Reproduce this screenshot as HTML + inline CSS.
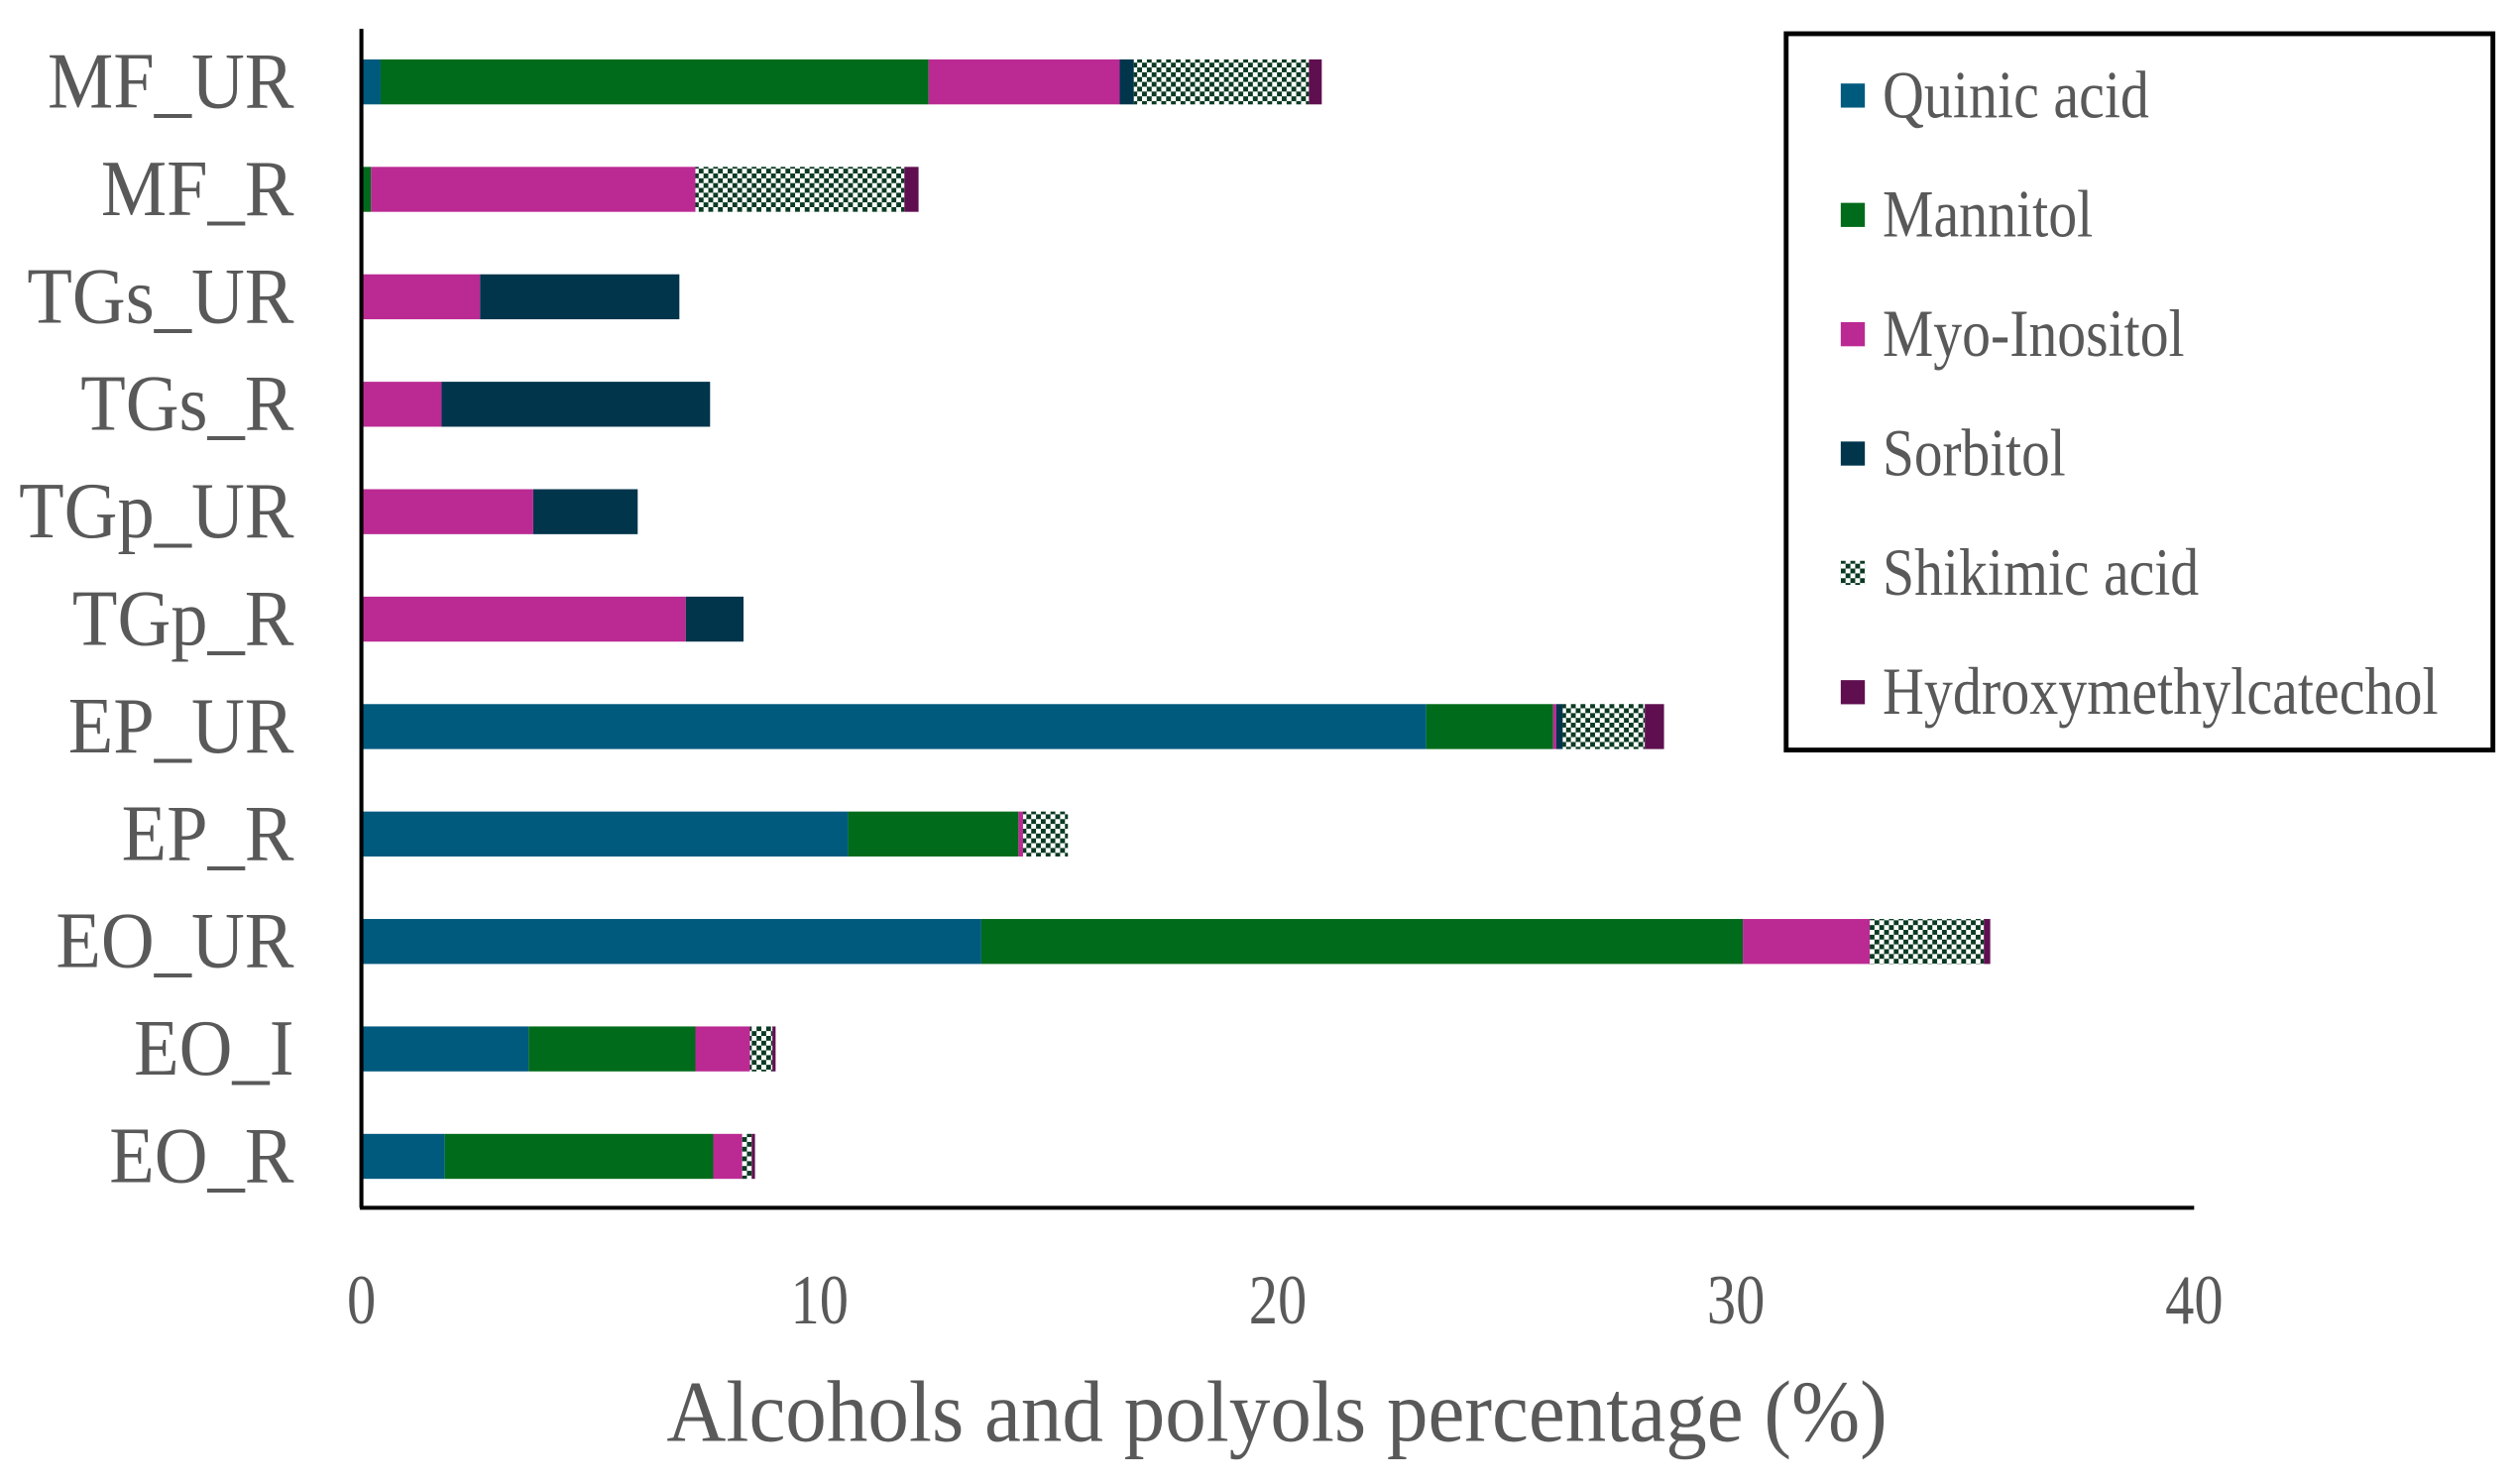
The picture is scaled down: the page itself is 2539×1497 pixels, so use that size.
<!DOCTYPE html>
<html><head><meta charset="utf-8"><style>
html,body{margin:0;padding:0;background:#fff;}
svg{display:block;}
text{font-family:"Liberation Serif",serif;fill:#595959;}
</style></head>
<body>
<svg id="chart" width="2539" height="1497" viewBox="0 0 1567 924" preserveAspectRatio="none" xmlns="http://www.w3.org/2000/svg">
<defs>
<pattern id="checker" width="6" height="6" patternUnits="userSpaceOnUse">
<rect width="6" height="6" fill="#ffffff"/>
<rect width="3" height="3" fill="#0a3a22"/>
<rect x="3" y="3" width="3" height="3" fill="#0a3a22"/>
</pattern>
</defs>
<g id="bars"></g>
<g id="axes"></g>
<g id="legend"></g>
</svg>
<script>
const categories = ["MF_UR","MF_R","TGs_UR","TGs_R","TGp_UR","TGp_R","EP_UR","EP_R","EO_UR","EO_I","EO_R"];
const seriesNames = ["Quinic acid","Mannitol","Myo-Inositol","Sorbitol","Shikimic acid","Hydroxymethylcatechol"];
const quinic   = [0.42, 0,    0,    0,    0,    0,    23.24, 10.62, 13.53, 3.65, 1.82];
const mannitol = [11.96,0.21, 0,    0,    0,    0,    2.77,  3.72,  16.62, 3.64, 5.86];
const myo      = [4.17, 7.08, 2.59, 1.75, 3.75, 7.08, 0.07,  0.10,  2.77,  1.19, 0.63];
const sorbitol = [0.31, 0,    4.35, 5.86, 2.28, 1.26, 0.14,  0,     0,     0,    0];
const shikimic = [3.82, 4.56, 0,    0,    0,    0,    1.79,  0.98,  2.49,  0.49, 0.21];
const hydroxy  = [0.28, 0.31, 0,    0,    0,    0,    0.42,  0,     0.14,  0.07, 0.07];
const xTicks = [0,10,20,30,40];

const series = [quinic, mannitol, myo, sorbitol, shikimic, hydroxy];
const fills = ["#005A7E","#006B1A","#BB2A93","#00354C","url(#checker)","#5F0F4F"];
const NS = "http://www.w3.org/2000/svg";
const X0 = 225, X1 = 1366, XMAX = 40;
const xs = v => X0 + v / XMAX * (X1 - X0);
const ROW0 = 51, ROWSTEP = 66.9, BARH = 28;
const yc = i => ROW0 + i * ROWSTEP;

function mk(tag, attrs, parent){
  const e = document.createElementNS(NS, tag);
  for (const k in attrs) e.setAttribute(k, attrs[k]);
  parent.appendChild(e);
  return e;
}
const gb = document.getElementById("bars");
categories.forEach((c, i) => {
  let acc = 0;
  series.forEach((s, j) => {
    const v = s[i];
    if (v > 0) {
      const r = mk("rect", {x: xs(acc), y: yc(i) - BARH/2, width: xs(acc + v) - xs(acc), height: BARH, fill: fills[j]}, gb);
      
      
    }
    acc += v;
  });
  const t = mk("text", {x: 0, y: 0, "font-size": 50, "text-anchor": "end", transform: `translate(183 ${yc(i) + 16}) scale(0.92 1)`}, gb);
  t.textContent = c;
  
  
});

const ga = document.getElementById("axes");
const yaxis = mk("line", {x1: X0, y1: 18, x2: X0, y2: 752, stroke: "#000", "stroke-width": 2.5}, ga);


const xaxis = mk("line", {x1: X0 - 1, y1: 752, x2: X1, y2: 752, stroke: "#000", "stroke-width": 2.5}, ga);


xTicks.forEach(v => {
  const t = mk("text", {x: 0, y: 0, "font-size": 44, "text-anchor": "middle", transform: `translate(${xs(v)} 824) scale(0.82 1)`}, ga);
  t.textContent = v;
  
  
});
const title = mk("text", {x: 415, y: 897, "font-size": 54, textLength: 760, lengthAdjust: "spacingAndGlyphs"}, ga);
title.textContent = "Alcohols and polyols percentage (%)";



const gl = document.getElementById("legend");


mk("rect", {x: 1112, y: 21, width: 440, height: 446, fill: "#fff", stroke: "#000", "stroke-width": 3}, gl);
const legW = [166, 131, 188, 114, 197, 346];
seriesNames.forEach((n, j) => {
  const y = 60 + j * 74.3;
  const g = mk("g", {}, gl);
  
  
  mk("rect", {x: 1146, y: y - 8, width: 15, height: 15, fill: fills[j]}, g);
  const t = mk("text", {x: 1172, y: y + 13, "font-size": 42, textLength: legW[j], lengthAdjust: "spacingAndGlyphs"}, g);
  t.textContent = n;
});
</script>
</body></html>
